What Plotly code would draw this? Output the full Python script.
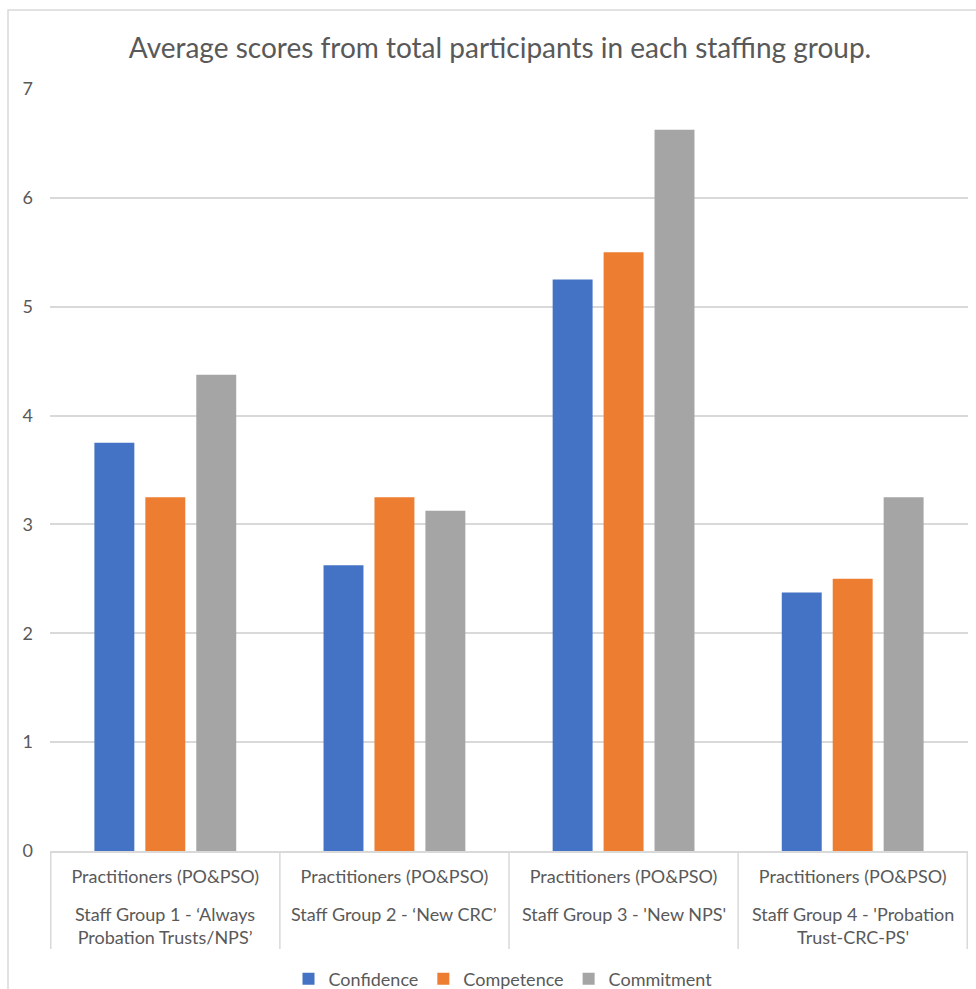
import plotly.graph_objects as go

categories = ["G1", "G2", "G3", "G4"]
group_labels = [
    "Staff Group 1 - ‘Always<br>Probation Trusts/NPS’",
    "Staff Group 2 - ‘New CRC’",
    "Staff Group 3 - 'New NPS'",
    "Staff Group 4 - 'Probation<br>Trust-CRC-PS'",
]
role_labels = ["Practitioners (PO&PSO)"] * 4

confidence = [3.75, 2.625, 5.25, 2.375]
competence = [3.25, 3.25, 5.5, 2.5]
commitment = [4.375, 3.125, 6.625, 3.25]

series = [
    ("Confidence", confidence, "#4472C4"),
    ("Competence", competence, "#ED7D31"),
    ("Commitment", commitment, "#A5A5A5"),
]

FONT = "Lato, 'Open Sans', sans-serif"
TXT = "#595959"
GRID = "#D9D9D9"

# pixel layout helpers
W, H = 976, 989
L, R, T, B = 50, 8, 89, 138
PH = H - T - B


def py(pix):
    """figure pixel row -> paper y"""
    return (H - B - pix) / PH


fig = go.Figure()
for name, vals, col in series:
    fig.add_trace(go.Bar(x=categories, y=vals, name=name, marker_color=col,
                         marker_line_width=0))

fig.update_layout(
    width=W, height=H,
    autosize=False,
    margin=dict(l=L, r=R, t=T, b=B, autoexpand=False),
    paper_bgcolor="white", plot_bgcolor="white",
    font=dict(family=FONT, color=TXT, size=18),
    title=dict(text="Average scores from total participants in each staffing group.",
               x=(500 - L) / (W - L - R), xref="paper", xanchor="center",
               y=1 - 48 / H, yanchor="middle",
               font=dict(size=28, color=TXT, family=FONT)),
    barmode="group", bargap=0.333, bargroupgap=0.216,
    showlegend=True,
    legend=dict(orientation="h", x=(503 - L) / (W - L - R), xanchor="center",
                y=py(979), yanchor="middle",
                font=dict(size=18, color=TXT, family=FONT),
                itemwidth=30, tracegroupgap=0, borderwidth=0),
)
fig.update_yaxes(range=[0, 7], dtick=1, showgrid=True, gridcolor=GRID, gridwidth=1.5,
                 zeroline=False, showline=False, ticks="", tickfont=dict(size=18, color=TXT),
                 ticklabelstandoff=16)
fig.update_xaxes(showline=True, linecolor=GRID, linewidth=1.5,
                 tickvals=categories, ticktext=role_labels,
                 tickfont=dict(size=18, color=TXT), ticks="", ticklabelstandoff=9)

# group names below the role labels
for c, lab in zip(categories, group_labels):
    fig.add_annotation(x=c, xref="x", y=py(901), yref="paper", yanchor="top",
                       text=lab, showarrow=False, align="center",
                       font=dict(size=18, color=TXT, family=FONT))

# category dividers
for i in range(len(categories) + 1):
    fig.add_shape(type="line", xref="x", yref="paper", x0=i - 0.5, x1=i - 0.5,
                  y0=0, y1=py(949), line=dict(color=GRID, width=1.5))

# outer chart border
fig.add_shape(type="rect", xref="paper", yref="paper",
              x0=(8 - L) / (W - L - R), x1=1.2, y0=-0.5, y1=py(10),
              line=dict(color=GRID, width=1.5), fillcolor="rgba(0,0,0,0)", layer="below")

fig.write_html("out.html")
